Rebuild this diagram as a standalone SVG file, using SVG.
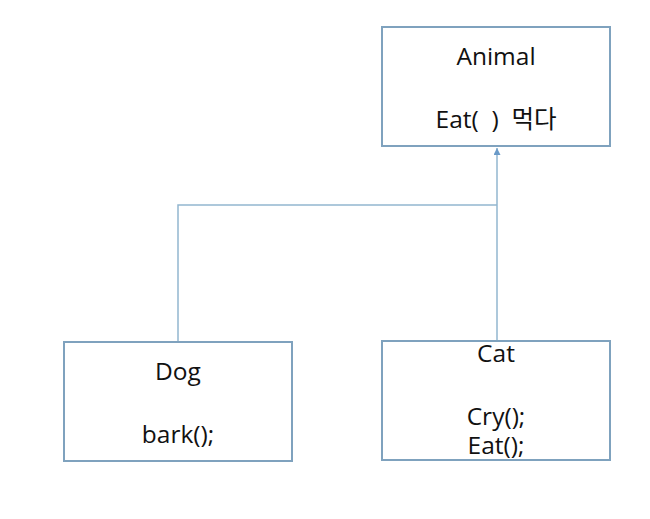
<svg xmlns="http://www.w3.org/2000/svg" width="650" height="519" viewBox="0 0 650 519">
<style>
.box{fill:#fff;stroke:#7fa2be;stroke-width:2}
.t{font-family:"Open Sans","Noto Sans CJK KR",sans-serif;font-size:24.5px;fill:#111;text-anchor:middle}
.c{fill:none;stroke:#92b6cf;stroke-width:1.5}
</style>
<defs>
<marker id="arr" viewBox="0 0 10 10" refX="10" refY="5" markerWidth="7" markerHeight="7" orient="auto" markerUnits="userSpaceOnUse">
<path d="M0,0 L10,5 L0,10 z" fill="#6a9ac8"/>
</marker>
</defs>
<rect width="650" height="519" fill="#fff"/>
<g id="connectors">
<path class="c" d="M497,341 L497,148" marker-end="url(#arr)"/>
<path class="c" d="M178,342 L178,205 L497,205"/>
</g>
<g id="animal">
<rect class="box" x="382" y="27" width="228" height="119"/>
<text class="t" x="496" y="65">Animal</text>
<text class="t" x="496" y="128" xml:space="preserve">Eat(  )  먹다</text>
</g>
<g id="dog">
<rect class="box" x="64" y="342" width="228" height="119"/>
<text class="t" x="178" y="380">Dog</text>
<text class="t" x="178" y="443">bark();</text>
</g>
<g id="cat">
<rect class="box" x="382" y="341" width="228" height="119"/>
<text class="t" x="496" y="362">Cat</text>
<text class="t" x="496" y="425">Cry();</text>
<text class="t" x="496" y="454">Eat();</text>
</g>
</svg>
